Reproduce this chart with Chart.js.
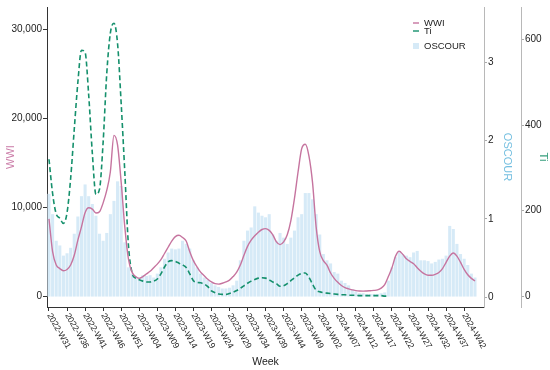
<!DOCTYPE html>
<html>
<head>
<meta charset="utf-8">
<script src="https://cdn.jsdelivr.net/npm/chart.js@4.4.1/dist/chart.umd.min.js"></script>
<style>
  html, body { margin: 0; padding: 0; background: #fff; }
  canvas { display: block; }
</style>
</head>
<body>
<canvas id="chart" width="550" height="370"></canvas>
<script>
// weekly categories, 2022-W31 .. 2024-W45
function weekRange(year, from, to) {
  const out = [];
  for (let w = from; w <= to; w++) out.push(year + "-W" + String(w).padStart(2, "0"));
  return out;
}
const weeks = [...weekRange(2022, 31, 52), ...weekRange(2023, 1, 52), ...weekRange(2024, 1, 45)];
const tickEvery = 5; // a label every 5 weeks

// axis tick values
const wwiTicks = [0, 10000, 20000, 30000];
const oscourTicks = [0, 1, 2, 3];
const tiTicks = [0, 200, 400, 600];

// WWI (left axis)
const wwi = [
  8700, 5000, 3500, 3100, 2850, 3000, 3500, 4600, 6300, 7800,
  9400, 9950, 9800, 9350, 9500, 10500, 11900, 14000, 18100, 17000,
  12800, 7800, 4200, 2700, 2200, 2000, 2200, 2500, 2800, 3200,
  3600, 4100, 4800, 5500, 6200, 6700, 6850, 6600, 6200, 5000,
  4000, 3300, 2700, 2300, 1900, 1600, 1400, 1350, 1450, 1600,
  1800, 2200, 2700, 3500, 4600, 5600, 6300, 6800, 7200, 7500,
  7600, 7400, 6900, 6100, 5800, 6100, 6900, 8500, 11000, 14000,
  16600, 17100, 15800, 12800, 7800, 5000, 4000, 3500, 2600, 2000,
  1550, 1200, 950, 820, 700, 620, 570, 560, 580, 610,
  640, 700, 900, 1300, 2200, 3200, 4500, 5050, 4700, 4200,
  3900, 3650, 3200, 2800, 2500, 2350, 2350, 2450, 2650, 3100,
  3800, 4500, 4850, 4500, 3800, 3000, 2400, 2000, 1700
];

// Ti (far right axis), stops at 2024-W21
const ti = [
  320, 240, 192, 182, 170, 195, 275, 390, 500, 575,
  570, 470, 335, 238, 250, 360, 520, 615, 638, 590,
  450, 290, 120, 55, 42, 38, 35, 33, 33, 35,
  40, 52, 68, 80, 83, 81, 77, 73, 67, 52,
  36, 32, 31, 28, 22, 12, 8, 5, 4, 4,
  6, 9, 13, 18, 24, 30, 35, 39, 42, 43,
  42, 38, 33, 29, 23, 24, 29, 36, 43, 49,
  53, 54, 44, 28, 14, 10, 8, 7, 6, 5,
  4, 3, 3, 2, 2, 2, 1, 1, 1, 1,
  1, 1, 1, 0, 0
];

// OSCOUR bars (inner right axis)
const oscour = [
  1.32, 1.06, 0.72, 0.66, 0.53, 0.56, 0.63, 0.81, 1.03, 1.29,
  1.44, 1.29, 1.19, 1.04, 0.81, 0.72, 0.82, 1.06, 1.23, 1.48,
  1.42, 0.7, 0.38, 0.3, 0.25, 0.25, 0.28, 0.27, 0.28, 0.25,
  0.3, 0.38, 0.49, 0.57, 0.62, 0.61, 0.62, 0.72, 0.68, 0.62,
  0.47, 0.38, 0.3, 0.25, 0.22, 0.18, 0.15, 0.13, 0.11, 0.11,
  0.12, 0.15, 0.21, 0.47, 0.72, 0.85, 0.89, 1.16, 1.08, 1.04,
  1.02, 1.06, 0.8, 0.72, 0.82, 0.76, 0.68, 0.76, 0.85, 1.02,
  1.06, 1.33, 1.33, 1.25, 1.06, 0.8, 0.55, 0.47, 0.43, 0.32,
  0.3, 0.21, 0.18, 0.15, 0.1, 0.07, 0.05, 0.05, 0.04, 0.04,
  0.04, 0.04, 0.05, 0.06, 0.21, 0.38, 0.51, 0.57, 0.55, 0.53,
  0.51, 0.57, 0.59, 0.47, 0.47, 0.46, 0.43, 0.45, 0.48, 0.49,
  0.53, 0.91, 0.87, 0.68, 0.55, 0.49, 0.41, 0.3, 0.25
];

const FONT = '"Liberation Sans", Arial, sans-serif';
const PINK = "#C6749F";
const GREEN = "#15906C";
const BLUE = "#D6EAF7";
Chart.defaults.font.family = FONT;
Chart.defaults.color = "#222";

const pts = (arr) => arr.map((v, i) => ({ x: i, y: v }));
const fixedTicks = (vals) => (s) => { s.ticks = vals.map((v) => ({ value: v })); };

// rotated week labels, reading downward from each tick
const weekTickLabels = {
  id: "weekTickLabels",
  afterDraw(chart) {
    const xs = chart.scales.x;
    const ctx = chart.ctx;
    ctx.save();
    ctx.font = "8.5px " + FONT;
    ctx.fillStyle = "#222";
    ctx.textAlign = "left";
    ctx.textBaseline = "middle";
    xs.ticks.forEach((t) => {
      ctx.save();
      ctx.translate(xs.getPixelForValue(t.value), xs.top + 7);
      ctx.rotate(Math.PI / 3);
      ctx.fillText(weeks[t.value], 0, 0);
      ctx.restore();
    });
    ctx.restore();
  },
};

// small legend in the top right corner of the plot
const cornerLegend = {
  id: "cornerLegend",
  afterDraw(chart) {
    const ctx = chart.ctx;
    const rows = [23, 31, 46];
    ctx.save();
    ctx.font = "9.5px " + FONT;
    ctx.textBaseline = "middle";
    chart.data.datasets.forEach((ds, k) => {
      const y = rows[k];
      if (ds.type === "bar") {
        ctx.fillStyle = ds.backgroundColor;
        ctx.fillRect(413, y - 3, 6, 6);
      } else {
        ctx.strokeStyle = ds.borderColor;
        ctx.lineWidth = 1.4;
        ctx.beginPath();
        ctx.moveTo(413, y);
        ctx.lineTo(419, y);
        ctx.stroke();
      }
      ctx.fillStyle = "#222";
      ctx.fillText(ds.label, 424, y);
    });
    ctx.restore();
  },
};

new Chart(document.getElementById("chart"), {
  type: "bar",
  data: {
    datasets: [
      {
        type: "line",
        label: "WWI",
        data: pts(wwi),
        yAxisID: "y",
        borderColor: PINK,
        borderWidth: 1.4,
        pointRadius: 0,
        cubicInterpolationMode: "monotone",
      },
      {
        type: "line",
        label: "Ti",
        data: pts(ti),
        yAxisID: "yTi",
        borderColor: GREEN,
        borderWidth: 1.6,
        borderDash: [5, 3],
        pointRadius: 0,
        cubicInterpolationMode: "monotone",
      },
      {
        type: "bar",
        label: "OSCOUR",
        data: pts(oscour),
        yAxisID: "yOsc",
        backgroundColor: BLUE,
        categoryPercentage: 1,
        barPercentage: 0.85,
      },
    ],
  },
  options: {
    responsive: false,
    animation: false,
    devicePixelRatio: 1,
    layout: { padding: { top: 4 } },
    plugins: { legend: { display: false }, tooltip: { enabled: false } },
    scales: {
      x: {
        type: "linear",
        min: -0.55,
        max: 120.5,
        offset: false,
        grid: { drawOnChartArea: false, offset: false, tickLength: 4, color: "#333" },
        border: { color: "#333" },
        ticks: { display: false },
        afterBuildTicks: (s) => {
          s.ticks = weeks.map((w, i) => ({ value: i })).filter((t) => t.value % tickEvery === 0);
        },
        afterFit: (s) => { s.height = 63; },
        title: { display: true, text: "Week", color: "#222", font: { size: 10.5 }, padding: { top: 0, bottom: 2 } },
      },
      y: {
        position: "left",
        min: -1226,
        max: 32553,
        grid: { drawOnChartArea: false, tickLength: 4, color: "#333" },
        border: { color: "#333" },
        afterBuildTicks: fixedTicks(wwiTicks),
        ticks: {
          padding: 1,
          font: { size: 10 },
          color: "#222",
          callback: (v) => v.toLocaleString("en-US"),
        },
        title: { display: true, text: "WWI", color: "#CC7FAA", font: { size: 11 }, padding: { top: 4, bottom: 0 } },
        afterFit: (s) => { s.width = 47; },
      },
      yOsc: {
        position: "right",
        min: -0.127,
        max: 3.709,
        grid: { drawOnChartArea: false, tickLength: 3, color: "#aaa" },
        border: { color: "#b8b8b8" },
        afterBuildTicks: fixedTicks(oscourTicks),
        ticks: { padding: 1, font: { size: 10 }, color: "#222" },
        title: { display: true, text: "OSCOUR", color: "#74BFE0", font: { size: 11 }, padding: { top: 7.5, bottom: 0 } },
        afterFit: (s) => { s.width = 37; },
      },
      yTi: {
        position: "right",
        min: -25.5,
        max: 676,
        grid: { drawOnChartArea: false, tickLength: 3, color: "#aaa" },
        border: { color: "#b8b8b8" },
        afterBuildTicks: fixedTicks(tiTicks),
        ticks: { padding: 1, font: { size: 10 }, color: "#222" },
        title: { display: true, text: "Ti", color: "#3AA07F", font: { size: 11 }, padding: { top: 0.5, bottom: 0 } },
        afterFit: (s) => { s.width = 29; },
      },
    },
  },
  plugins: [weekTickLabels, cornerLegend],
});
</script>
</body>
</html>
